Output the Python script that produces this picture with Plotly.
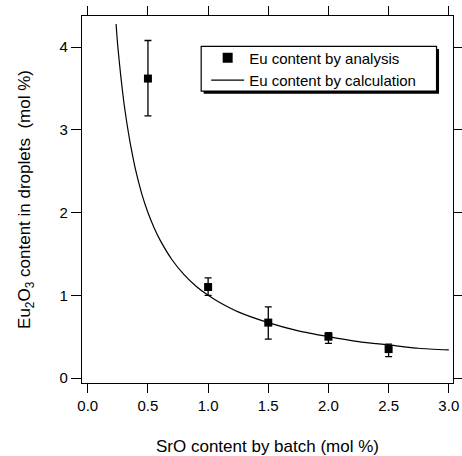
import plotly.graph_objects as go

# measured data (Eu content by analysis)
sro_batch = [0.5, 1.0, 1.5, 2.0, 2.5]
eu_analysis = [3.62, 1.10, 0.67, 0.50, 0.35]
err_plus = [0.46, 0.11, 0.19, 0.05, 0.06]
err_minus = [0.45, 0.10, 0.20, 0.08, 0.09]

# calculated curve (Eu content by calculation)
calc_x = [0.235, 0.25, 0.275, 0.3, 0.325, 0.35, 0.375, 0.4, 0.45, 0.5, 0.55, 0.6,
          0.7, 0.8, 0.9, 1.0, 1.1, 1.25, 1.5, 1.75, 2.0, 2.25, 2.5, 2.75, 3.0]
calc_y = [4.28, 4.0, 3.64, 3.33, 3.08, 2.86, 2.67, 2.5, 2.22, 2.0, 1.82, 1.67,
          1.43, 1.25, 1.11, 1.0, 0.91, 0.8, 0.67, 0.57, 0.5, 0.44, 0.4, 0.36, 0.34]

x_ticks = [0.0, 0.5, 1.0, 1.5, 2.0, 2.5, 3.0]
x_ticklabels = ["0.0", "0.5", "1.0", "1.5", "2.0", "2.5", "3.0"]
y_ticks = [0, 1, 2, 3, 4]
y_ticklabels = ["0", "1", "2", "3", "4"]

FONT = "Liberation Sans, Arial, Helvetica, sans-serif"

fig = go.Figure()

fig.add_trace(go.Scatter(
    x=calc_x, y=calc_y, mode="lines",
    line=dict(color="black", width=1.2, shape="spline", smoothing=0.6),
    showlegend=False, hoverinfo="skip"))

fig.add_trace(go.Scatter(
    x=sro_batch, y=eu_analysis, mode="markers",
    marker=dict(symbol="square", size=8, color="black"),
    error_y=dict(type="data", array=err_plus, arrayminus=err_minus,
                 color="black", thickness=1.3, width=3.5),
    showlegend=False))

# legend entries
fig.add_trace(go.Scatter(
    x=[None], y=[None], mode="markers", name="Eu content by analysis",
    marker=dict(symbol="square", size=10, color="black")))
fig.add_trace(go.Scatter(
    x=[None], y=[None], mode="lines", name="Eu content by calculation",
    line=dict(color="black", width=1.2)))

L, R, T, B = 81.5, 8.5, 15.5, 72.7
W, H = 462, 456
pw, ph = W - L - R, H - T - B

def px2paper_x(px):
    return (px - L) / pw

def px2paper_y(py):
    return (H - B - py) / ph

# legend frame with drop shadow
fig.add_shape(type="rect", xref="paper", yref="paper",
              x0=px2paper_x(203.5), x1=px2paper_x(439.5),
              y0=px2paper_y(93.3), y1=px2paper_y(48.5),
              fillcolor="black", line=dict(width=0), layer="above")
fig.add_shape(type="rect", xref="paper", yref="paper",
              x0=px2paper_x(201), x1=px2paper_x(437),
              y0=px2paper_y(90.7), y1=px2paper_y(46),
              fillcolor="white", line=dict(color="black", width=1.2), layer="above")

axis_common = dict(
    showgrid=False, zeroline=False, showline=True, linecolor="black",
    linewidth=1.4, ticks="outside", tickcolor="black", tickwidth=1.4,
    mirror="ticks", tickfont=dict(family=FONT, size=15, color="black"),
    automargin=False,
)

fig.update_layout(
    width=W, height=H,
    margin=dict(l=L, r=R, t=T, b=B, pad=0, autoexpand=False),
    paper_bgcolor="white", plot_bgcolor="white",
    font=dict(family=FONT, color="black"),
    xaxis=dict(range=[-0.048, 3.035], tickvals=x_ticks, ticktext=x_ticklabels,
               ticklen=9,
               title=dict(text="SrO content by batch (mol %)",
                          font=dict(family=FONT, size=17), standoff=27),
               **axis_common),
    yaxis=dict(range=[-0.060, 4.376], tickvals=y_ticks, ticktext=y_ticklabels,
               ticklen=10,
               title=dict(text="Eu<sub>2</sub>O<sub>3</sub> content in droplets&nbsp; (mol %)",
                          font=dict(family=FONT, size=17), standoff=24),
               **axis_common),
    legend=dict(x=px2paper_x(206), y=px2paper_y(41), xanchor="left", yanchor="top",
                bgcolor="rgba(0,0,0,0)", borderwidth=0,
                font=dict(family=FONT, size=15, color="black"),
                tracegroupgap=0, itemwidth=33),
)

fig.write_html("out.html")
